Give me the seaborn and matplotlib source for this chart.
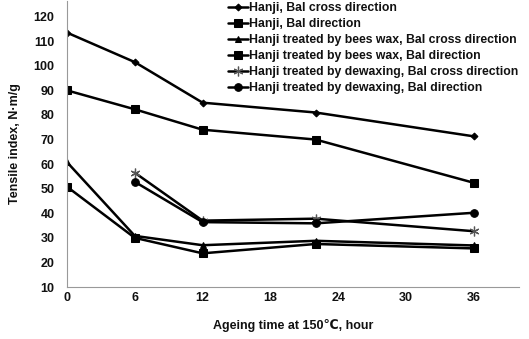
import matplotlib
matplotlib.use("Agg")
import matplotlib.pyplot as plt
import seaborn as sns
import pandas as pd

sns.set_theme(style="white")
plt.rcParams['font.family'] = ['Liberation Sans', 'DejaVu Sans']
plt.rcParams['font.weight'] = 'bold'

hours_full = [0, 6, 12, 22, 36]
hours_dewax = [6, 12, 22, 36]

labels = [
    "Hanji, Bal cross direction",
    "Hanji, Bal direction",
    "Hanji treated by bees wax, Bal cross direction",
    "Hanji treated by bees wax, Bal direction",
    "Hanji treated by dewaxing, Bal cross direction",
    "Hanji treated by dewaxing, Bal direction",
]
hanji_cross = [113.5, 101.5, 85.0, 81.0, 71.3]
hanji_bal = [90.0, 82.3, 74.0, 70.0, 52.4]
wax_cross = [60.8, 30.8, 27.0, 28.8, 26.9]
wax_bal = [50.8, 30.0, 23.7, 27.5, 25.7]
dewax_cross = [56.5, 37.0, 37.8, 32.7]
dewax_bal = [52.8, 36.4, 35.9, 40.2]

series = [
    (hours_full, hanji_cross, dict(marker="D", markersize=3.5, markeredgecolor="black")),
    (hours_full, hanji_bal, dict(marker="s", markersize=5.5, markeredgecolor="black")),
    (hours_full, wax_cross, dict(marker="^", markersize=5, markeredgecolor="black")),
    (hours_full, wax_bal, dict(marker="s", markersize=5.5, markeredgecolor="black")),
    (hours_dewax, dewax_cross, dict(marker=(6, 2, 0), markersize=7, markeredgewidth=0.9,
                                    markeredgecolor="#555555")),
    (hours_dewax, dewax_bal, dict(marker="o", markersize=5.5, markeredgecolor="black")),
]

fig = plt.figure(figsize=(5.29, 3.39), dpi=100)
ax = fig.add_axes([67 / 529, 52 / 339, (519 - 67) / 529, (339 - 52) / 339 - 0.002])

for (xs, ys, style), lab in zip(series, labels):
    df = pd.DataFrame({"x": xs, "y": ys})
    sns.lineplot(data=df, x="x", y="y", ax=ax, color="black", linewidth=1.8,
                 label=lab, **style)

ax.set_xlim(0, 40)
ax.set_ylim(10, 126.5)
ax.set_xticks([0, 6, 12, 18, 24, 30, 36])
ax.set_yticks(list(range(10, 121, 10)))
ax.tick_params(axis="both", labelsize=9, length=3, color="#999999", width=0.8,
               direction="out", pad=6, labelcolor="#111111")
ax.tick_params(axis="x", direction="inout", length=5, pad=1)
for t in ax.get_xticklabels() + ax.get_yticklabels():
    t.set_fontweight("bold")
for side in ["top", "right"]:
    ax.spines[side].set_visible(False)
for side in ["left", "bottom"]:
    ax.spines[side].set_color("#999999")
    ax.spines[side].set_linewidth(0.8)

ax.set_xlabel("Ageing time at 150\u2103, hour", fontsize=9, fontweight="bold", labelpad=11,
              color="#111111")
ax.set_ylabel("Tensile index, N\u00b7m/g", fontsize=9, fontweight="bold", labelpad=9,
              color="#111111")

leg = ax.legend(loc="upper right", bbox_to_anchor=(1.01, 1.012), frameon=False,
                fontsize=8.8, handlelength=1.6, handletextpad=0.15,
                labelspacing=0.33, borderaxespad=0)
for t in leg.get_texts():
    t.set_fontweight("bold")
    t.set_color("#111111")

fig.savefig("out.png", dpi=100)
